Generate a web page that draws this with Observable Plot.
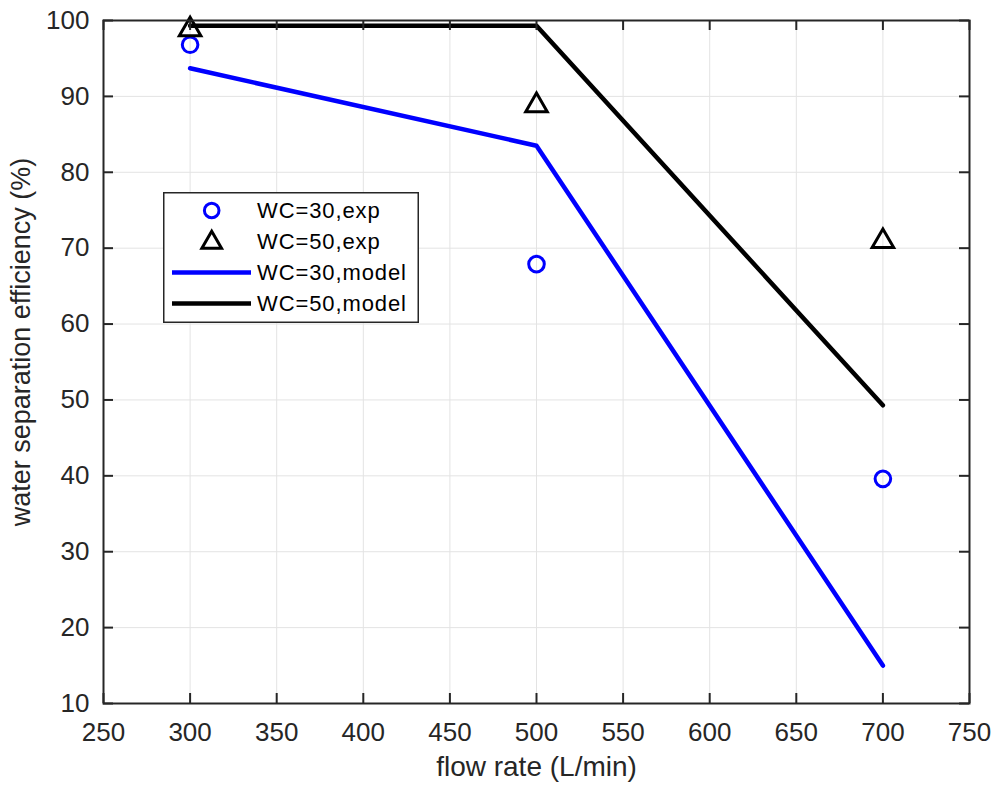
<!DOCTYPE html>
<html><head><meta charset="utf-8">
<script src="https://cdn.jsdelivr.net/npm/d3@7"></script>
<script src="https://cdn.jsdelivr.net/npm/@observablehq/plot@0.6"></script>
<style>
body{margin:0;background:#fff;}
#wrap{position:relative;width:995px;height:787px;font-family:"Liberation Sans",Arial,sans-serif;}
#legend{position:absolute;left:163px;top:192px;}
</style></head><body><div id="wrap"></div>
<script>
const flowRates = [300, 500, 700];
const wc30Exp = [96.8, 67.9, 39.6];
const wc50Exp = [98.8, 88.8, 70.9];
const wc30Model = [93.7, 83.5, 15.0];
const wc50Model = [99.3, 99.3, 49.3];
const xTicks = [250, 300, 350, 400, 450, 500, 550, 600, 650, 700, 750];
const yTicks = [10, 20, 30, 40, 50, 60, 70, 80, 90, 100];
const seriesNames = ["WC=30,exp", "WC=50,exp", "WC=30,model", "WC=50,model"];
const xLabel = "flow rate (L/min)";
const yLabel = "water separation efficiency (%)";

const W = 995, H = 787, mL = 103, mR = 26, mT = 20, mB = 84;
const pw = W - mL - mR, ph = H - mT - mB;
const tickLen = 10;
const font = "'Liberation Sans', Arial, sans-serif";
const axisColor = "#262626";
const rows = ys => flowRates.map((x, i) => ({x, y: ys[i]}));

const chart = Plot.plot({
  width: W, height: H,
  marginLeft: mL, marginRight: mR, marginTop: mT, marginBottom: mB,
  style: {fontFamily: font, fontSize: "26px", color: axisColor, background: "#fff", overflow: "visible"},
  x: {domain: [250, 750]},
  y: {domain: [10, 100]},
  marks: [
    Plot.gridX(xTicks, {stroke: "#e3e3e3", strokeOpacity: 1, strokeWidth: 1}),
    Plot.gridY(yTicks, {stroke: "#e3e3e3", strokeOpacity: 1, strokeWidth: 1}),
    Plot.line(rows(wc30Model), {x: "x", y: "y", stroke: "#0000ff", strokeWidth: 4.5}),
    Plot.line(rows(wc50Model), {x: "x", y: "y", stroke: "#000000", strokeWidth: 4.5}),
    Plot.dot(rows(wc30Exp), {x: "x", y: "y", r: 7.8, symbol: "circle", stroke: "#0000ff", strokeWidth: 3}),
    Plot.dot(rows(wc50Exp), {x: "x", y: "y", r: 8, symbol: "triangle", stroke: "#000000", strokeWidth: 3}),
    Plot.tickX(xTicks, {x: d => d, insetTop: ph - tickLen, stroke: axisColor, strokeWidth: 2}),
    Plot.tickX(xTicks, {x: d => d, insetBottom: ph - tickLen, stroke: axisColor, strokeWidth: 2}),
    Plot.tickY(yTicks, {y: d => d, insetRight: pw - tickLen, stroke: axisColor, strokeWidth: 2}),
    Plot.tickY(yTicks, {y: d => d, insetLeft: pw - tickLen, stroke: axisColor, strokeWidth: 2}),
    Plot.frame({stroke: axisColor, strokeWidth: 2}),
    Plot.axisX(xTicks, {tickSize: 0, tickPadding: 19, label: null, fill: axisColor, fontSize: 26}),
    Plot.axisY(yTicks, {tickSize: 0, tickPadding: 14, label: null, fill: axisColor, fontSize: 26}),
    Plot.text([xLabel], {frameAnchor: "bottom", dy: 72, fontSize: 28, fill: axisColor, text: d => d, letterSpacing: "0.6px"}),
    Plot.text([yLabel], {frameAnchor: "left", textAnchor: "middle", rotate: -90, dx: -82, dy: -20, fontSize: 27, fill: axisColor, text: d => d})
  ]
});
const wrap = document.getElementById("wrap");
wrap.appendChild(chart);

// legend
const legendItems = [
  {name: seriesNames[0], kind: "circle", color: "#0000ff"},
  {name: seriesNames[1], kind: "triangle", color: "#000000"},
  {name: seriesNames[2], kind: "line", color: "#0000ff"},
  {name: seriesNames[3], kind: "line", color: "#000000"}
];
const lw = 256, lh = 131;
const div = document.createElement("div");
div.id = "legend";
wrap.appendChild(div);
const svg = d3.select(div).append("svg").attr("width", lw).attr("height", lh);
svg.append("rect").attr("x", 0.75).attr("y", 0.75).attr("width", lw - 1.5).attr("height", lh - 1.5)
  .attr("fill", "#fff").attr("stroke", axisColor).attr("stroke-width", 1.5);
const rowY = i => 18.5 + i * 31;
legendItems.forEach((it, i) => {
  const g = svg.append("g").attr("transform", `translate(0,${rowY(i)})`);
  if (it.kind === "line") {
    g.append("line").attr("x1", 9).attr("x2", 88).attr("y1", 0).attr("y2", 0)
      .attr("stroke", it.color).attr("stroke-width", 4.5);
  } else {
    const size = Math.PI * 7.3 * 7.3;
    g.append("path").attr("transform", `translate(48.7,${it.kind === "triangle" ? 1 : 0})`)
      .attr("d", d3.symbol(it.kind === "circle" ? d3.symbolCircle : d3.symbolTriangle, size)())
      .attr("fill", "none").attr("stroke", it.color).attr("stroke-width", 3);
  }
  g.append("text").attr("x", 94).attr("y", 0).attr("dy", "0.35em")
    .attr("font-family", font).attr("font-size", 22).attr("fill", "#000")
    .attr("letter-spacing", "0.9px").text(it.name);
});
</script></body></html>
